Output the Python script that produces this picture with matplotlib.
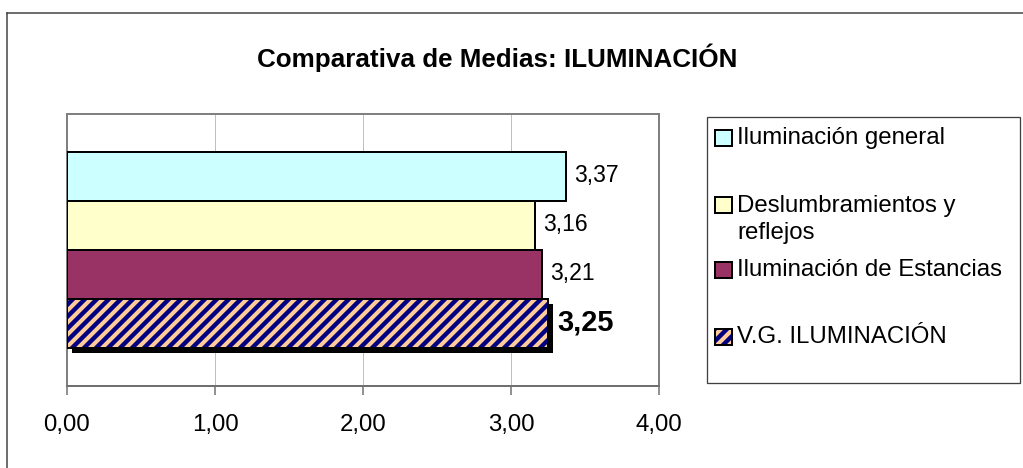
import matplotlib
matplotlib.use("Agg")
import matplotlib.pyplot as plt
from matplotlib.patches import Rectangle
from matplotlib.lines import Line2D
from matplotlib.ticker import FuncFormatter
import matplotlib.transforms as mtransforms

# ---- data ----
title = "Comparativa de Medias: ILUMINACIÓN"
series = ["Iluminación general", "Deslumbramientos y\nreflejos",
          "Iluminación de Estancias", "V.G. ILUMINACIÓN"]
values = [3.37, 3.16, 3.21, 3.25]
face_colors = ["#CCFFFF", "#FFFFCC", "#993366", "#FFCC99"]
hatch_color = "#000080"
x_ticks = [0, 1, 2, 3, 4]

plt.rcParams['font.family'] = ['Liberation Sans', 'DejaVu Sans']
plt.rcParams['hatch.linewidth'] = 4.4

W, H = 1023, 468
DPI = 72
fig = plt.figure(figsize=(W / DPI, H / DPI), dpi=DPI)
fig.patch.set_facecolor("white")


def fx(px):
    return px / W


def fy(py):
    return 1 - py / H


# axes area in pixels: left 67, right 659, top 114, bottom 386
ax = fig.add_axes([fx(67), fy(386), (659 - 67) / W, (386 - 114) / H])
n = len(values)
bar_h = 1.0
ypos = [(n - 1) / 2 - i for i in range(n)]
half = (386 - 114) / 49 / 2
ax.set_ylim(-half, half)
ax.set_xlim(x_ticks[0], x_ticks[-1])

shadow_tr = ax.transData + mtransforms.ScaledTranslation(5 / DPI, -5 / DPI, fig.dpi_scale_trans)

for i, (v, c) in enumerate(zip(values, face_colors)):
    y = ypos[i]
    last = (i == n - 1)
    if last:
        sh = ax.barh(y, v, height=bar_h, color="black", linewidth=0, zorder=2)
        for p in sh:
            p.set_transform(shadow_tr)
        ax.barh(y, v, height=bar_h, color=c, edgecolor=hatch_color, hatch="//",
                linewidth=0, zorder=3)
        ax.barh(y, v, height=bar_h, facecolor="none", edgecolor="black",
                linewidth=2, zorder=4)
    else:
        ax.barh(y, v, height=bar_h, color=c, edgecolor="black", linewidth=2, zorder=3)
    lbl = f"{v:.2f}".replace(".", ",")
    ax.annotate(lbl, xy=(v, y), xytext=(9 if last else 8, 1), textcoords="offset points",
                ha="left", va="center", fontsize=29 if last else 23,
                fontweight="bold" if last else "normal", color="black", zorder=5)

ax.set_xticks(x_ticks)
ax.xaxis.set_major_formatter(FuncFormatter(lambda x, p: f"{x:.2f}".replace(".", ",")))
ax.set_yticks([])
ax.xaxis.grid(True, color="#C0C0C0", linewidth=1)
ax.set_axisbelow(True)
for s in ax.spines.values():
    s.set_color("#808080")
    s.set_linewidth(2)
ax.spines["bottom"].set_color("#707070")
ax.tick_params(axis="x", direction="out", length=9, width=1.5, color="#707070",
               labelsize=24, pad=19)

# title
fig.text(fx(497), fy(67), title, ha="center", va="baseline", fontsize=26,
         fontweight="bold", color="black")

# legend (manual, pixel layout)
fig.patches.append(Rectangle((fx(707), fy(383)), (1020 - 707) / W, (383 - 117) / H,
                             transform=fig.transFigure, facecolor="white",
                             edgecolor="#404040", linewidth=1.3, zorder=1))
leg_y = [138, 205, 270, 337]
for i, (lab, c) in enumerate(zip(series, face_colors)):
    cy = leg_y[i]
    if i == n - 1:
        r = Rectangle((fx(715), fy(cy + 8)), 17 / W, 16 / H, transform=fig.transFigure,
                      facecolor=c, edgecolor=hatch_color, hatch="//", linewidth=0, zorder=2)
        fig.patches.append(r)
        fig.patches.append(Rectangle((fx(715), fy(cy + 8)), 17 / W, 16 / H,
                                     transform=fig.transFigure, facecolor="none",
                                     edgecolor="black", linewidth=2, zorder=3))
    else:
        fig.patches.append(Rectangle((fx(715), fy(cy + 8)), 17 / W, 16 / H,
                                     transform=fig.transFigure, facecolor=c,
                                     edgecolor="black", linewidth=2, zorder=3))
    if "\n" in lab:
        fig.text(fx(737), fy(cy - 10), lab, ha="left", va="top", fontsize=24,
                 linespacing=1.27, color="black")
    else:
        fig.text(fx(737), fy(cy), lab, ha="left", va="center", fontsize=24, color="black")

# outer chart border (left and top visible)
fig.lines.append(Line2D([fx(7), fx(7)], [fy(13), fy(470)], transform=fig.transFigure,
                        color="#404040", linewidth=1.5))
fig.lines.append(Line2D([fx(7), fx(1030)], [fy(13), fy(13)], transform=fig.transFigure,
                        color="#404040", linewidth=1.5))

fig.savefig("out.png", dpi=DPI, facecolor="white")
